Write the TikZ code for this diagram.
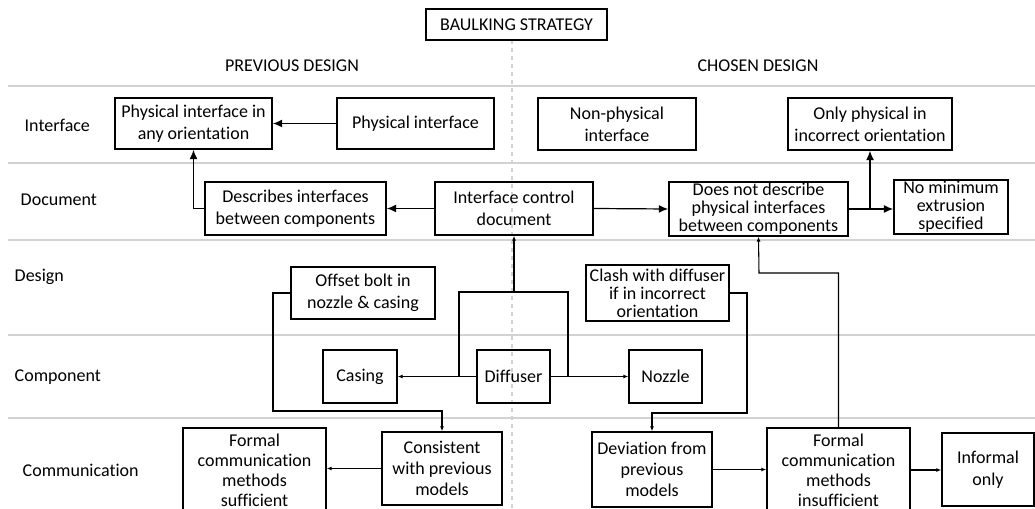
\documentclass[tikz,border=0pt]{standalone}
\usepackage{fontspec}
\setmainfont{Carlito}[Ligatures=NoCommon]
\usetikzlibrary{arrows.meta}
\tikzstyle{box}=[draw,line width=1.3pt,align=center,inner sep=0pt]
\tikzstyle{tight}=[font=\fontsize{13.5}{13.5}\selectfont]
\tikzstyle{four}=[font=\fontsize{13.5}{15}\selectfont]
\tikzstyle{three}=[font=\fontsize{13.5}{15.75}\selectfont]
\tikzstyle{lane}=[gray!35,line width=0.8pt]
\tikzstyle{big}=[line width=0.9pt,-{Latex[length=7pt,width=6pt]}]
\tikzstyle{small}=[line width=0.8pt,-{Latex[length=3.5pt,width=3pt]}]

\begin{document}
\begin{tikzpicture}[x=0.75pt,y=-0.75pt,font=\fontsize{13.5}{16.5}\selectfont]
					\clip (0,0) rectangle (1035,509);
					\draw [lane] (8,86) -- (1035,86);
					\draw [lane] (8,163) -- (1035,163);
					\draw [lane] (8,240) -- (1035,240);
					\draw [lane] (8,335) -- (1035,335);
					\draw [lane] (8,418) -- (1035,418);
					\draw [gray!35,dashed,line width=0.8pt] (512,40) -- (512,509);
					\node [box,line width=1pt,minimum width=181*0.75pt,minimum height=31*0.75pt] (strategy) at (516.5,24.5) {BAULKING STRATEGY};
					\node (prev) at (292,66) {PREVIOUS DESIGN};
					\node (chosen) at (758,66) {CHOSEN DESIGN};
					\node [anchor=west] (interface) at (20,125) {Interface};
					\node [anchor=west] (document) at (16,200) {Document};
					\node [anchor=west] (design) at (10,277) {Design};
					\node [anchor=west] (component) at (10,377) {Component};
					\node [anchor=west] (communication) at (18,470) {Communication};
					\node [box,minimum width=157*0.75pt,minimum height=51*0.75pt] (physany) at (193.5,123.5) {Physical interface in\\any orientation};
					\node [box,minimum width=157*0.75pt,minimum height=51*0.75pt] (phys) at (415.5,123.5) {Physical interface};
					\node [box,minimum width=158*0.75pt,minimum height=52*0.75pt] (nonphys) at (617,124) {Non-physical\\interface};
					\node [box,minimum width=164*0.75pt,minimum height=52*0.75pt] (onlyphys) at (870,124) {Only physical in\\incorrect orientation};
					\node [box,minimum width=181*0.75pt,minimum height=53*0.75pt] (describes) at (295.5,208.5) {Describes interfaces\\between components};
					\node [box,minimum width=158*0.75pt,minimum height=53*0.75pt] (icd) at (514,208.5) {Interface control\\document};
					\node [box,tight,minimum width=179*0.75pt,minimum height=54*0.75pt] (doesnot) at (758.5,209) {Does not describe\\physical interfaces\\between components};
					\node [box,tight,minimum width=114*0.75pt,minimum height=54*0.75pt] (nominimum) at (951,207) {No minimum\\extrusion\\specified};
					\node [box,minimum width=144*0.75pt,minimum height=52*0.75pt] (offset) at (363,293) {Offset bolt in\\nozzle \& casing};
					\node [box,tight,minimum width=143*0.75pt,minimum height=56*0.75pt] (clash) at (657.5,293) {Clash with diffuser\\if in incorrect\\orientation};
					\node [box,minimum width=74*0.75pt,minimum height=53*0.75pt] (casing) at (360,376.5) {Casing};
					\node [box,minimum width=73*0.75pt,minimum height=53*0.75pt] (diffuser) at (513.5,376.5) {Diffuser};
					\node [box,minimum width=73*0.75pt,minimum height=53*0.75pt] (nozzle) at (665.5,376.5) {Nozzle};
					\node [box,four,minimum width=143*0.75pt,minimum height=84*0.75pt] (formalok) at (254.5,470) {Formal\\communication\\methods\\sufficient};
					\node [box,three,minimum width=120*0.75pt,minimum height=73*0.75pt] (consistent) at (442,468.5) {Consistent\\with previous\\models};
					\node [box,three,minimum width=120*0.75pt,minimum height=75*0.75pt] (deviation) at (652,469.5) {Deviation from\\previous\\models};
					\node [box,four,minimum width=143*0.75pt,minimum height=84*0.75pt] (formalnotok) at (838.5,470) {Formal\\communication\\methods\\insufficient};
					\node [box,minimum width=92*0.75pt,minimum height=73*0.75pt] (informal) at (988,469.5) {Informal\\only};
					\coordinate (split) at (doesnot.east -| onlyphys.south);
					\coordinate (loopl) at (459,292);
					\coordinate (loopr) at (568,292);
					\coordinate (offturn) at (273,411);
					\coordinate (clashturn) at (747,413);
					\coordinate (insturn) at (759,273);
					\draw [big] (phys.west) -- (physany.east);
					\draw [big] (describes.west) -| (physany.south);
					\draw [big] (icd.west) -- (describes.east);
					\draw [big] (icd.east) -- (doesnot.west);
					\draw [big] (doesnot.east) -- (doesnot.east -| nominimum.west);
					\draw [big] (split) -- (onlyphys.south);
					\draw [small] (diffuser.west) -- (casing.east);
					\draw [small] (diffuser.east) -- (nozzle.west);
					\draw [line width=0.8pt] (loopl |- diffuser.west) -- (loopl) -- (loopr) -- (loopr |- diffuser.east);
					\draw [small,line width=1pt] (icd.south |- loopl) -- (icd.south);
					\draw [small] (offset.west) -| (offturn) -| (consistent.north);
					\draw [small] (consistent.west) -- (consistent.west -| formalok.east);
					\draw [small] (clash.east) -| (clashturn) -| (deviation.north);
					\draw [small] (deviation.east) -- (deviation.east -| formalnotok.west);
					\draw [small] (formalnotok.east) -- (formalnotok.east -| informal.west);
					\draw [small] (formalnotok.north) |- (insturn) -- (doesnot.south);
\end{tikzpicture}
\end{document}
